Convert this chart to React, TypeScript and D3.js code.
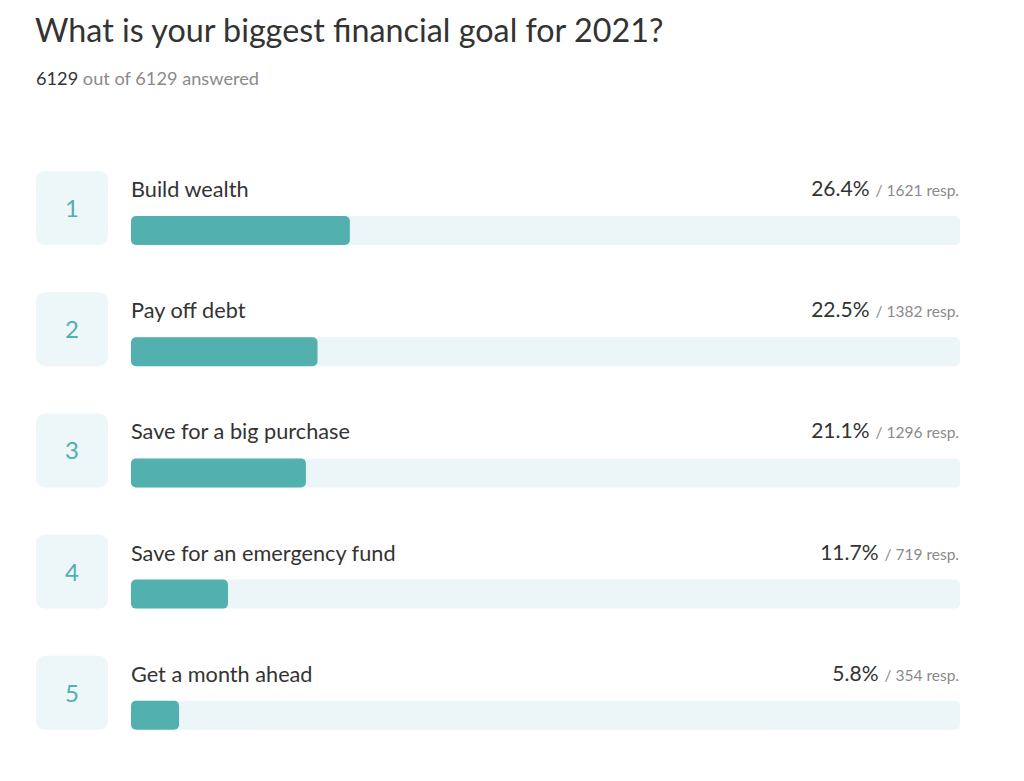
import React from "react";
import * as d3 from "d3";

const title = "What is your biggest financial goal for 2021?";
const answered = 6129;
const total = 6129;
const categories = [
  "Build wealth",
  "Pay off debt",
  "Save for a big purchase",
  "Save for an emergency fund",
  "Get a month ahead",
];
const percents = [26.4, 22.5, 21.1, 11.7, 5.8];
const responses = [1621, 1382, 1296, 719, 354];

const FONT = "Lato, 'Open Sans', sans-serif";

export default function App() {
  const W = 1024;
  const H = 781;
  const x = d3.scaleLinear().domain([0, 100]).range([131, 960]);
  const y = d3
    .scaleBand<number>()
    .domain(categories.map((_, i) => i))
    .range([171, 171 + 121.2 * categories.length])
    .paddingInner(0)
    .paddingOuter(0);

  return (
    <svg
      width={W}
      height={H}
      style={{ position: "absolute", left: 0, top: 0, display: "block", background: "#fff" }}
      fontFamily={FONT}
    >
      <text x={35} y={42} fontSize={32.3} fill="#333" fontWeight={400}>
        {title}
      </text>
      <text x={36} y={85} fontSize={18.2} fill="#8a8a8a">
        <tspan fill="#333">{answered}</tspan>
        <tspan> out of {total} answered</tspan>
      </text>
      {categories.map((c, i) => {
        const top = y(i)!;
        return (
          <g key={c}>
            <rect x={36} y={top} width={72} height={74} rx={9} fill="#edf6f8" />
            <text
              x={72}
              y={top + 46}
              fontSize={24}
              fill="#52b0ae"
              textAnchor="middle"
            >
              {i + 1}
            </text>
            <text x={131} y={top + 26} fontSize={21.7} fill="#333">
              {c}
            </text>
            <text x={959} y={top + 25} textAnchor="end" fill="#333" fontSize={21}>
              {d3.format(".1f")(percents[i])}%
              <tspan fontSize={15.5} fill="#8a8a8a" dx={6}>
                / {responses[i]} resp.
              </tspan>
            </text>
            <rect
              x={x(0)}
              y={top + 45}
              width={x(100) - x(0)}
              height={29}
              rx={5}
              fill="#ecf5f7"
            />
            <rect
              x={x(0)}
              y={top + 45}
              width={x(percents[i]) - x(0)}
              height={29}
              rx={5}
              fill="#52b0ae"
            />
          </g>
        );
      })}
    </svg>
  );
}
